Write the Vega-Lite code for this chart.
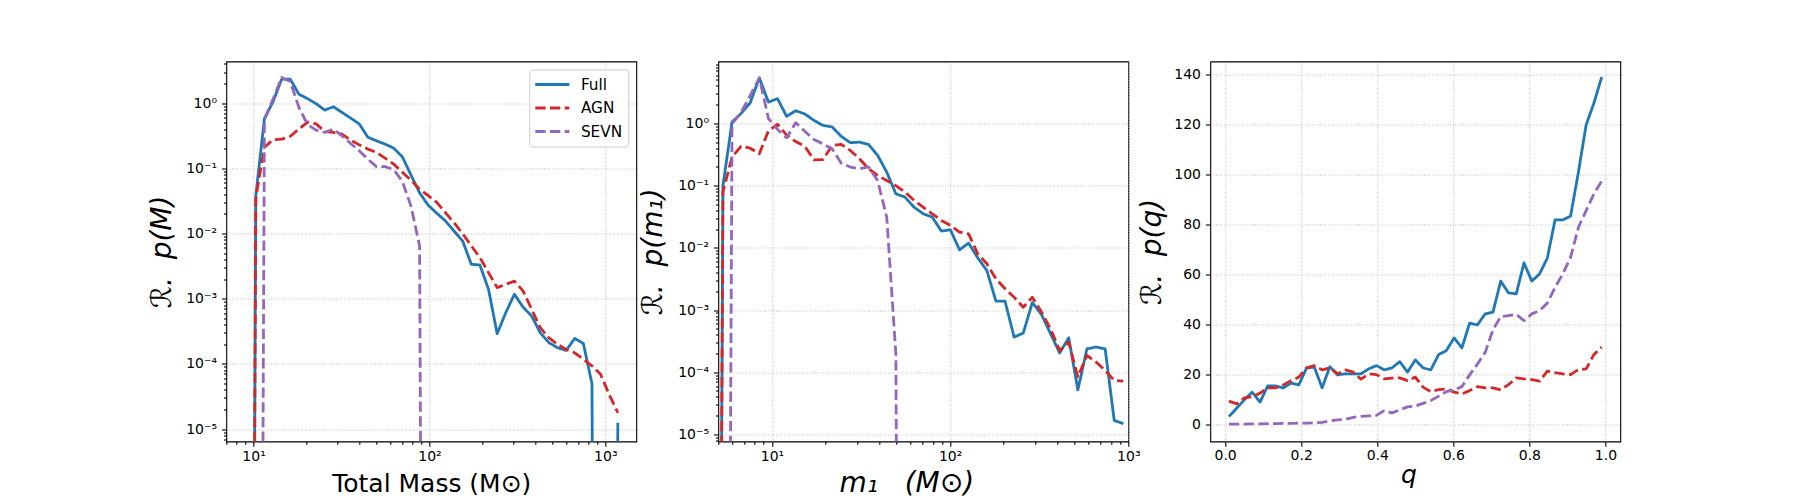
{
  "$schema": "https://vega.github.io/schema/vega-lite/v6.json",
  "background": "white",
  "padding": {"left": 147.3, "top": 55.5, "right": 5, "bottom": 5},
  "config": {
    "font": "DejaVu Sans",
    "view": {"stroke": "#000000", "strokeWidth": 1.1},
    "axis": {
      "domain": false,
      "grid": true,
      "gridColor": "#b0b0b0",
      "gridDash": [1, 1.6],
      "gridWidth": 0.8,
      "tickColor": "#000000",
      "tickWidth": 1.1,
      "labelFont": "DejaVu Sans",
      "labelFontSize": 14,
      "labelColor": "#000000",
      "labelOverlap": false,
      "labelBound": false,
      "labelFlush": false,
      "titleFont": "DejaVu Sans",
      "titleFontSize": 25,
      "titleFontWeight": "normal",
      "titleColor": "#000000"
    },
    "line": {"strokeWidth": 2.8, "strokeCap": "butt", "strokeJoin": "round"}
  },
  "datasets": {
    "p1": [
      {"x": 9.2, "y": 1e-30, "s": "Full"}, {"x": 10.3, "y": 0.038, "s": "Full"}, {"x": 11.53, "y": 0.58, "s": "Full"}, {"x": 12.91, "y": 1.05, "s": "Full"}, {"x": 14.45, "y": 2.33, "s": "Full"}, {"x": 16.18, "y": 2.33, "s": "Full"}, {"x": 18.11, "y": 1.37, "s": "Full"}, {"x": 20.28, "y": 1.17, "s": "Full"}, {"x": 22.7, "y": 0.98, "s": "Full"}, {"x": 25.41, "y": 0.78, "s": "Full"}, {"x": 28.44, "y": 0.88, "s": "Full"}, {"x": 31.84, "y": 0.72, "s": "Full"}, {"x": 35.65, "y": 0.59, "s": "Full"}, {"x": 39.9, "y": 0.48, "s": "Full"}, {"x": 44.67, "y": 0.3, "s": "Full"}, {"x": 50.0, "y": 0.264, "s": "Full"}, {"x": 55.98, "y": 0.235, "s": "Full"}, {"x": 62.66, "y": 0.204, "s": "Full"}, {"x": 70.15, "y": 0.15, "s": "Full"}, {"x": 78.52, "y": 0.079, "s": "Full"}, {"x": 87.9, "y": 0.042, "s": "Full"}, {"x": 98.4, "y": 0.0272, "s": "Full"}, {"x": 110.2, "y": 0.0204, "s": "Full"}, {"x": 123.3, "y": 0.0156, "s": "Full"}, {"x": 138.0, "y": 0.0109, "s": "Full"}, {"x": 154.5, "y": 0.00767, "s": "Full"}, {"x": 173.0, "y": 0.00337, "s": "Full"}, {"x": 193.6, "y": 0.00329, "s": "Full"}, {"x": 216.8, "y": 0.00139, "s": "Full"}, {"x": 242.7, "y": 0.00029, "s": "Full"}, {"x": 271.6, "y": 0.00061, "s": "Full"}, {"x": 304.1, "y": 0.00117, "s": "Full"}, {"x": 340.4, "y": 0.000745, "s": "Full"}, {"x": 381.1, "y": 0.000542, "s": "Full"}, {"x": 426.6, "y": 0.000301, "s": "Full"}, {"x": 477.5, "y": 0.000212, "s": "Full"}, {"x": 534.6, "y": 0.000177, "s": "Full"}, {"x": 598.4, "y": 0.000161, "s": "Full"}, {"x": 669.9, "y": 0.000246, "s": "Full"}, {"x": 749.9, "y": 0.000206, "s": "Full"}, {"x": 839.5, "y": 0.0000497, "s": "Full"}, {"x": 939.8, "y": 1e-30, "s": "Full"}, {"x": 1052, "y": 1e-30, "s": "Full"}, {"x": 1178, "y": 0.0000125, "s": "Full"},
      {"x": 9.2, "y": 1e-30, "s": "AGN"}, {"x": 10.3, "y": 0.035, "s": "AGN"}, {"x": 11.53, "y": 0.21, "s": "AGN"}, {"x": 12.91, "y": 0.275, "s": "AGN"}, {"x": 14.45, "y": 0.28, "s": "AGN"}, {"x": 16.18, "y": 0.31, "s": "AGN"}, {"x": 18.11, "y": 0.4, "s": "AGN"}, {"x": 20.28, "y": 0.51, "s": "AGN"}, {"x": 22.7, "y": 0.48, "s": "AGN"}, {"x": 25.41, "y": 0.367, "s": "AGN"}, {"x": 28.44, "y": 0.355, "s": "AGN"}, {"x": 31.84, "y": 0.335, "s": "AGN"}, {"x": 35.65, "y": 0.271, "s": "AGN"}, {"x": 39.9, "y": 0.229, "s": "AGN"}, {"x": 44.67, "y": 0.197, "s": "AGN"}, {"x": 50.0, "y": 0.175, "s": "AGN"}, {"x": 55.98, "y": 0.143, "s": "AGN"}, {"x": 62.66, "y": 0.116, "s": "AGN"}, {"x": 70.15, "y": 0.087, "s": "AGN"}, {"x": 78.52, "y": 0.066, "s": "AGN"}, {"x": 87.9, "y": 0.048, "s": "AGN"}, {"x": 98.4, "y": 0.038, "s": "AGN"}, {"x": 110.2, "y": 0.03, "s": "AGN"}, {"x": 123.3, "y": 0.0209, "s": "AGN"}, {"x": 138.0, "y": 0.01466, "s": "AGN"}, {"x": 154.5, "y": 0.00993, "s": "AGN"}, {"x": 173.0, "y": 0.00646, "s": "AGN"}, {"x": 193.6, "y": 0.00427, "s": "AGN"}, {"x": 216.8, "y": 0.00251, "s": "AGN"}, {"x": 242.7, "y": 0.00148, "s": "AGN"}, {"x": 271.6, "y": 0.00166, "s": "AGN"}, {"x": 304.1, "y": 0.00186, "s": "AGN"}, {"x": 340.4, "y": 0.00132, "s": "AGN"}, {"x": 381.1, "y": 0.00069, "s": "AGN"}, {"x": 426.6, "y": 0.000359, "s": "AGN"}, {"x": 477.5, "y": 0.000251, "s": "AGN"}, {"x": 534.6, "y": 0.0002, "s": "AGN"}, {"x": 598.4, "y": 0.000166, "s": "AGN"}, {"x": 669.9, "y": 0.000148, "s": "AGN"}, {"x": 749.9, "y": 0.0001175, "s": "AGN"}, {"x": 839.5, "y": 0.0000933, "s": "AGN"}, {"x": 939.8, "y": 0.0000692, "s": "AGN"}, {"x": 1052, "y": 0.0000339, "s": "AGN"}, {"x": 1178, "y": 0.0000178, "s": "AGN"},
      {"x": 10.3, "y": 1e-30, "s": "SEVN"}, {"x": 11.53, "y": 0.56, "s": "SEVN"}, {"x": 12.91, "y": 1.15, "s": "SEVN"}, {"x": 14.45, "y": 2.48, "s": "SEVN"}, {"x": 16.18, "y": 2.15, "s": "SEVN"}, {"x": 18.11, "y": 0.86, "s": "SEVN"}, {"x": 20.28, "y": 0.47, "s": "SEVN"}, {"x": 22.7, "y": 0.385, "s": "SEVN"}, {"x": 25.41, "y": 0.355, "s": "SEVN"}, {"x": 28.44, "y": 0.4, "s": "SEVN"}, {"x": 31.84, "y": 0.315, "s": "SEVN"}, {"x": 35.65, "y": 0.24, "s": "SEVN"}, {"x": 39.9, "y": 0.186, "s": "SEVN"}, {"x": 44.67, "y": 0.138, "s": "SEVN"}, {"x": 50.0, "y": 0.106, "s": "SEVN"}, {"x": 55.98, "y": 0.106, "s": "SEVN"}, {"x": 62.66, "y": 0.0955, "s": "SEVN"}, {"x": 70.15, "y": 0.063, "s": "SEVN"}, {"x": 78.52, "y": 0.0263, "s": "SEVN"}, {"x": 87.9, "y": 0.00646, "s": "SEVN"}, {"x": 98.4, "y": 1e-30, "s": "SEVN"}
    ],
    "p2": [
      {"x": 4.72, "y": 1e-30, "s": "Full"}, {"x": 5.309, "y": 0.1, "s": "Full"}, {"x": 5.972, "y": 1.05, "s": "Full"}, {"x": 6.716, "y": 1.45, "s": "Full"}, {"x": 7.555, "y": 2.15, "s": "Full"}, {"x": 8.498, "y": 5.4, "s": "Full"}, {"x": 9.558, "y": 2.2, "s": "Full"}, {"x": 10.75, "y": 2.5, "s": "Full"}, {"x": 12.09, "y": 1.3, "s": "Full"}, {"x": 13.6, "y": 1.6, "s": "Full"}, {"x": 15.3, "y": 1.42, "s": "Full"}, {"x": 17.21, "y": 1.12, "s": "Full"}, {"x": 19.36, "y": 0.93, "s": "Full"}, {"x": 21.77, "y": 0.88, "s": "Full"}, {"x": 24.49, "y": 0.62, "s": "Full"}, {"x": 27.54, "y": 0.49, "s": "Full"}, {"x": 30.98, "y": 0.5, "s": "Full"}, {"x": 34.85, "y": 0.46, "s": "Full"}, {"x": 39.2, "y": 0.306, "s": "Full"}, {"x": 44.09, "y": 0.165, "s": "Full"}, {"x": 49.59, "y": 0.074, "s": "Full"}, {"x": 55.78, "y": 0.0654, "s": "Full"}, {"x": 62.74, "y": 0.045, "s": "Full"}, {"x": 70.57, "y": 0.0353, "s": "Full"}, {"x": 79.37, "y": 0.0312, "s": "Full"}, {"x": 89.28, "y": 0.0186, "s": "Full"}, {"x": 100.4, "y": 0.0195, "s": "Full"}, {"x": 112.9, "y": 0.0093, "s": "Full"}, {"x": 127.0, "y": 0.0119, "s": "Full"}, {"x": 142.9, "y": 0.0069, "s": "Full"}, {"x": 160.7, "y": 0.00433, "s": "Full"}, {"x": 180.8, "y": 0.00139, "s": "Full"}, {"x": 203.3, "y": 0.00139, "s": "Full"}, {"x": 228.7, "y": 0.000367, "s": "Full"}, {"x": 257.3, "y": 0.000426, "s": "Full"}, {"x": 289.4, "y": 0.00132, "s": "Full"}, {"x": 325.5, "y": 0.00085, "s": "Full"}, {"x": 366.1, "y": 0.000417, "s": "Full"}, {"x": 411.8, "y": 0.000204, "s": "Full"}, {"x": 463.2, "y": 0.000358, "s": "Full"}, {"x": 521.0, "y": 0.000052, "s": "Full"}, {"x": 586.0, "y": 0.000238, "s": "Full"}, {"x": 659.1, "y": 0.000254, "s": "Full"}, {"x": 741.3, "y": 0.000238, "s": "Full"}, {"x": 833.8, "y": 0.0000168, "s": "Full"}, {"x": 937.8, "y": 0.0000149, "s": "Full"},
      {"x": 4.72, "y": 1e-30, "s": "AGN"}, {"x": 5.309, "y": 0.079, "s": "AGN"}, {"x": 5.972, "y": 0.29, "s": "AGN"}, {"x": 6.716, "y": 0.43, "s": "AGN"}, {"x": 7.555, "y": 0.4, "s": "AGN"}, {"x": 8.498, "y": 0.325, "s": "AGN"}, {"x": 9.558, "y": 0.76, "s": "AGN"}, {"x": 10.75, "y": 0.97, "s": "AGN"}, {"x": 12.09, "y": 0.65, "s": "AGN"}, {"x": 13.6, "y": 0.51, "s": "AGN"}, {"x": 15.3, "y": 0.43, "s": "AGN"}, {"x": 17.21, "y": 0.26, "s": "AGN"}, {"x": 19.36, "y": 0.262, "s": "AGN"}, {"x": 21.77, "y": 0.443, "s": "AGN"}, {"x": 24.49, "y": 0.46, "s": "AGN"}, {"x": 27.54, "y": 0.368, "s": "AGN"}, {"x": 30.98, "y": 0.27, "s": "AGN"}, {"x": 34.85, "y": 0.187, "s": "AGN"}, {"x": 39.2, "y": 0.146, "s": "AGN"}, {"x": 44.09, "y": 0.121, "s": "AGN"}, {"x": 49.59, "y": 0.1, "s": "AGN"}, {"x": 55.78, "y": 0.079, "s": "AGN"}, {"x": 62.74, "y": 0.058, "s": "AGN"}, {"x": 70.57, "y": 0.045, "s": "AGN"}, {"x": 79.37, "y": 0.0353, "s": "AGN"}, {"x": 89.28, "y": 0.0276, "s": "AGN"}, {"x": 100.4, "y": 0.0229, "s": "AGN"}, {"x": 112.9, "y": 0.0179, "s": "AGN"}, {"x": 127.0, "y": 0.0168, "s": "AGN"}, {"x": 142.9, "y": 0.008, "s": "AGN"}, {"x": 160.7, "y": 0.00554, "s": "AGN"}, {"x": 180.8, "y": 0.00318, "s": "AGN"}, {"x": 203.3, "y": 0.0022, "s": "AGN"}, {"x": 228.7, "y": 0.00161, "s": "AGN"}, {"x": 257.3, "y": 0.00111, "s": "AGN"}, {"x": 289.4, "y": 0.00161, "s": "AGN"}, {"x": 325.5, "y": 0.00093, "s": "AGN"}, {"x": 366.1, "y": 0.0005, "s": "AGN"}, {"x": 411.8, "y": 0.000224, "s": "AGN"}, {"x": 463.2, "y": 0.000305, "s": "AGN"}, {"x": 521.0, "y": 0.000084, "s": "AGN"}, {"x": 586.0, "y": 0.000186, "s": "AGN"}, {"x": 659.1, "y": 0.000146, "s": "AGN"}, {"x": 741.3, "y": 0.000107, "s": "AGN"}, {"x": 833.8, "y": 0.000074, "s": "AGN"}, {"x": 937.8, "y": 0.000072, "s": "AGN"},
      {"x": 5.309, "y": 1e-30, "s": "SEVN"}, {"x": 5.972, "y": 0.99, "s": "SEVN"}, {"x": 6.716, "y": 1.5, "s": "SEVN"}, {"x": 7.555, "y": 2.82, "s": "SEVN"}, {"x": 8.498, "y": 5.4, "s": "SEVN"}, {"x": 9.558, "y": 1.2, "s": "SEVN"}, {"x": 10.75, "y": 0.8, "s": "SEVN"}, {"x": 12.09, "y": 0.59, "s": "SEVN"}, {"x": 13.6, "y": 1.03, "s": "SEVN"}, {"x": 15.3, "y": 0.75, "s": "SEVN"}, {"x": 17.21, "y": 0.55, "s": "SEVN"}, {"x": 19.36, "y": 0.47, "s": "SEVN"}, {"x": 21.77, "y": 0.39, "s": "SEVN"}, {"x": 24.49, "y": 0.23, "s": "SEVN"}, {"x": 27.54, "y": 0.199, "s": "SEVN"}, {"x": 30.98, "y": 0.187, "s": "SEVN"}, {"x": 34.85, "y": 0.2, "s": "SEVN"}, {"x": 39.2, "y": 0.121, "s": "SEVN"}, {"x": 44.09, "y": 0.031, "s": "SEVN"}, {"x": 49.59, "y": 0.0002, "s": "SEVN"}, {"x": 55.78, "y": 1e-30, "s": "SEVN"}
    ],
    "p3": [
      {"x": 0.01, "y": 3.3, "s": "Full"}, {"x": 0.0304, "y": 6.7, "s": "Full"}, {"x": 0.0508, "y": 10.1, "s": "Full"}, {"x": 0.0713, "y": 13.1, "s": "Full"}, {"x": 0.0917, "y": 9.1, "s": "Full"}, {"x": 0.1121, "y": 15.6, "s": "Full"}, {"x": 0.1325, "y": 15.6, "s": "Full"}, {"x": 0.1529, "y": 14.8, "s": "Full"}, {"x": 0.1733, "y": 16.7, "s": "Full"}, {"x": 0.1938, "y": 16.0, "s": "Full"}, {"x": 0.2142, "y": 22.8, "s": "Full"}, {"x": 0.2346, "y": 23.1, "s": "Full"}, {"x": 0.255, "y": 14.8, "s": "Full"}, {"x": 0.2754, "y": 23.3, "s": "Full"}, {"x": 0.2958, "y": 20.0, "s": "Full"}, {"x": 0.3163, "y": 20.4, "s": "Full"}, {"x": 0.3367, "y": 20.4, "s": "Full"}, {"x": 0.3571, "y": 20.4, "s": "Full"}, {"x": 0.3775, "y": 22.4, "s": "Full"}, {"x": 0.3979, "y": 23.7, "s": "Full"}, {"x": 0.4183, "y": 22.0, "s": "Full"}, {"x": 0.4388, "y": 22.8, "s": "Full"}, {"x": 0.4592, "y": 25.3, "s": "Full"}, {"x": 0.4796, "y": 21.1, "s": "Full"}, {"x": 0.5, "y": 26.0, "s": "Full"}, {"x": 0.5204, "y": 22.8, "s": "Full"}, {"x": 0.5408, "y": 22.0, "s": "Full"}, {"x": 0.5613, "y": 28.1, "s": "Full"}, {"x": 0.5817, "y": 29.7, "s": "Full"}, {"x": 0.6021, "y": 34.8, "s": "Full"}, {"x": 0.6225, "y": 30.8, "s": "Full"}, {"x": 0.6429, "y": 40.7, "s": "Full"}, {"x": 0.6633, "y": 40.0, "s": "Full"}, {"x": 0.6838, "y": 44.4, "s": "Full"}, {"x": 0.7042, "y": 45.1, "s": "Full"}, {"x": 0.7246, "y": 57.5, "s": "Full"}, {"x": 0.745, "y": 52.8, "s": "Full"}, {"x": 0.7654, "y": 52.4, "s": "Full"}, {"x": 0.7858, "y": 64.8, "s": "Full"}, {"x": 0.8063, "y": 57.5, "s": "Full"}, {"x": 0.8267, "y": 60.4, "s": "Full"}, {"x": 0.8471, "y": 66.7, "s": "Full"}, {"x": 0.8675, "y": 82.0, "s": "Full"}, {"x": 0.8879, "y": 82.0, "s": "Full"}, {"x": 0.9083, "y": 83.5, "s": "Full"}, {"x": 0.9288, "y": 101.0, "s": "Full"}, {"x": 0.9492, "y": 120.0, "s": "Full"}, {"x": 0.9696, "y": 128.7, "s": "Full"}, {"x": 0.99, "y": 139.1, "s": "Full"},
      {"x": 0.01, "y": 9.5, "s": "AGN"}, {"x": 0.0304, "y": 8.4, "s": "AGN"}, {"x": 0.0508, "y": 10.8, "s": "AGN"}, {"x": 0.0713, "y": 11.3, "s": "AGN"}, {"x": 0.0917, "y": 12.7, "s": "AGN"}, {"x": 0.1121, "y": 14.8, "s": "AGN"}, {"x": 0.1325, "y": 14.8, "s": "AGN"}, {"x": 0.1529, "y": 16.0, "s": "AGN"}, {"x": 0.1733, "y": 17.7, "s": "AGN"}, {"x": 0.1938, "y": 19.1, "s": "AGN"}, {"x": 0.2142, "y": 22.8, "s": "AGN"}, {"x": 0.2346, "y": 23.7, "s": "AGN"}, {"x": 0.255, "y": 22.0, "s": "AGN"}, {"x": 0.2754, "y": 22.8, "s": "AGN"}, {"x": 0.2958, "y": 20.4, "s": "AGN"}, {"x": 0.3163, "y": 22.0, "s": "AGN"}, {"x": 0.3367, "y": 21.1, "s": "AGN"}, {"x": 0.3571, "y": 18.3, "s": "AGN"}, {"x": 0.3775, "y": 20.4, "s": "AGN"}, {"x": 0.3979, "y": 20.1, "s": "AGN"}, {"x": 0.4183, "y": 18.4, "s": "AGN"}, {"x": 0.4388, "y": 18.7, "s": "AGN"}, {"x": 0.4592, "y": 18.8, "s": "AGN"}, {"x": 0.4796, "y": 17.7, "s": "AGN"}, {"x": 0.5, "y": 19.1, "s": "AGN"}, {"x": 0.5204, "y": 15.1, "s": "AGN"}, {"x": 0.5408, "y": 13.3, "s": "AGN"}, {"x": 0.5613, "y": 14.1, "s": "AGN"}, {"x": 0.5817, "y": 14.4, "s": "AGN"}, {"x": 0.6021, "y": 13.1, "s": "AGN"}, {"x": 0.6225, "y": 12.4, "s": "AGN"}, {"x": 0.6429, "y": 13.7, "s": "AGN"}, {"x": 0.6633, "y": 15.3, "s": "AGN"}, {"x": 0.6838, "y": 14.8, "s": "AGN"}, {"x": 0.7042, "y": 14.8, "s": "AGN"}, {"x": 0.7246, "y": 14.0, "s": "AGN"}, {"x": 0.745, "y": 16.1, "s": "AGN"}, {"x": 0.7654, "y": 18.8, "s": "AGN"}, {"x": 0.7858, "y": 18.4, "s": "AGN"}, {"x": 0.8063, "y": 18.1, "s": "AGN"}, {"x": 0.8267, "y": 17.5, "s": "AGN"}, {"x": 0.8471, "y": 21.5, "s": "AGN"}, {"x": 0.8675, "y": 20.9, "s": "AGN"}, {"x": 0.8879, "y": 20.4, "s": "AGN"}, {"x": 0.9083, "y": 20.1, "s": "AGN"}, {"x": 0.9288, "y": 22.1, "s": "AGN"}, {"x": 0.9492, "y": 22.4, "s": "AGN"}, {"x": 0.9696, "y": 28.1, "s": "AGN"}, {"x": 0.99, "y": 31.1, "s": "AGN"},
      {"x": 0.01, "y": 0.3, "s": "SEVN"}, {"x": 0.0304, "y": 0.3, "s": "SEVN"}, {"x": 0.0508, "y": 0.3, "s": "SEVN"}, {"x": 0.0713, "y": 0.4, "s": "SEVN"}, {"x": 0.0917, "y": 0.4, "s": "SEVN"}, {"x": 0.1121, "y": 0.5, "s": "SEVN"}, {"x": 0.1325, "y": 0.5, "s": "SEVN"}, {"x": 0.1529, "y": 0.6, "s": "SEVN"}, {"x": 0.1733, "y": 0.6, "s": "SEVN"}, {"x": 0.1938, "y": 0.7, "s": "SEVN"}, {"x": 0.2142, "y": 0.7, "s": "SEVN"}, {"x": 0.2346, "y": 0.8, "s": "SEVN"}, {"x": 0.255, "y": 1.0, "s": "SEVN"}, {"x": 0.2754, "y": 1.6, "s": "SEVN"}, {"x": 0.2958, "y": 2.0, "s": "SEVN"}, {"x": 0.3163, "y": 2.2, "s": "SEVN"}, {"x": 0.3367, "y": 3.0, "s": "SEVN"}, {"x": 0.3571, "y": 3.4, "s": "SEVN"}, {"x": 0.3775, "y": 3.6, "s": "SEVN"}, {"x": 0.3979, "y": 3.8, "s": "SEVN"}, {"x": 0.4183, "y": 5.7, "s": "SEVN"}, {"x": 0.4388, "y": 4.8, "s": "SEVN"}, {"x": 0.4592, "y": 6.0, "s": "SEVN"}, {"x": 0.4796, "y": 7.2, "s": "SEVN"}, {"x": 0.5, "y": 7.5, "s": "SEVN"}, {"x": 0.5204, "y": 8.6, "s": "SEVN"}, {"x": 0.5408, "y": 9.7, "s": "SEVN"}, {"x": 0.5613, "y": 11.5, "s": "SEVN"}, {"x": 0.5817, "y": 13.3, "s": "SEVN"}, {"x": 0.6021, "y": 14.0, "s": "SEVN"}, {"x": 0.6225, "y": 15.3, "s": "SEVN"}, {"x": 0.6429, "y": 20.0, "s": "SEVN"}, {"x": 0.6633, "y": 24.3, "s": "SEVN"}, {"x": 0.6838, "y": 29.0, "s": "SEVN"}, {"x": 0.7042, "y": 38.0, "s": "SEVN"}, {"x": 0.7246, "y": 43.3, "s": "SEVN"}, {"x": 0.745, "y": 43.7, "s": "SEVN"}, {"x": 0.7654, "y": 44.2, "s": "SEVN"}, {"x": 0.7858, "y": 41.7, "s": "SEVN"}, {"x": 0.8063, "y": 44.4, "s": "SEVN"}, {"x": 0.8267, "y": 45.7, "s": "SEVN"}, {"x": 0.8471, "y": 48.7, "s": "SEVN"}, {"x": 0.8675, "y": 55.0, "s": "SEVN"}, {"x": 0.8879, "y": 60.4, "s": "SEVN"}, {"x": 0.9083, "y": 67.0, "s": "SEVN"}, {"x": 0.9288, "y": 79.0, "s": "SEVN"}, {"x": 0.9492, "y": 85.7, "s": "SEVN"}, {"x": 0.9696, "y": 92.4, "s": "SEVN"}, {"x": 0.99, "y": 97.5, "s": "SEVN"}
    ]
  },
  "bounds": "flush",
  "spacing": 82,
  "resolve": {
    "scale": {"color": "independent", "strokeDash": "independent"},
    "legend": {"color": "independent", "strokeDash": "independent"}
  },
  "hconcat": [
    {
      "width": 410,
      "height": 380,
      "data": {"name": "p1"},
      "encoding": {
        "x": {
          "field": "x", "type": "quantitative",
          "scale": {"type": "log", "domain": [7, 1500], "nice": false},
          "axis": {
            "title": "Total Mass (M⊙)",
            "values": [7, 8, 9, 10, 20, 30, 40, 50, 60, 70, 80, 90, 100, 200, 300, 400, 500, 600, 700, 800, 900, 1000],
            "labelExpr": "abs(log(datum.value)/LN10 - round(log(datum.value)/LN10)) < 0.001 ? ['10⁻⁵','10⁻⁴','10⁻³','10⁻²','10⁻¹','10⁰','10¹','10²','10³'][round(log(datum.value)/LN10)+5] : ''",
            "tickSize": {"condition": {"test": "abs(log(datum.value)/LN10 - round(log(datum.value)/LN10)) < 0.001", "value": 4.8}, "value": 2.8},
            "gridOpacity": {"condition": {"test": "abs(log(datum.value)/LN10 - round(log(datum.value)/LN10)) < 0.001", "value": 1}, "value": 0},
            "labelPadding": 3,
            "titleY": 50.5,
            "titleBaseline": "alphabetic"
          }
        },
        "y": {
          "field": "y", "type": "quantitative",
          "scale": {"type": "log", "domain": [0.00000645, 4.35], "nice": false},
          "axis": {
            "title": "ℛ.\u00a0 p(M)",
            "titleFontStyle": "italic",
            "titleFontSize": 28,
            "values": [0.000007, 0.000008, 0.000009, 0.00001, 0.00002, 0.00003, 0.00004, 0.00005, 0.00006, 0.00007, 0.00008, 0.00009, 0.0001, 0.0002, 0.0003, 0.0004, 0.0005, 0.0006, 0.0007, 0.0008, 0.0009, 0.001, 0.002, 0.003, 0.004, 0.005, 0.006, 0.007, 0.008, 0.009, 0.01, 0.02, 0.03, 0.04, 0.05, 0.06, 0.07, 0.08, 0.09, 0.1, 0.2, 0.3, 0.4, 0.5, 0.6, 0.7, 0.8, 0.9, 1, 2, 3, 4],
            "labelExpr": "abs(log(datum.value)/LN10 - round(log(datum.value)/LN10)) < 0.001 ? ['10⁻⁵','10⁻⁴','10⁻³','10⁻²','10⁻¹','10⁰','10¹','10²','10³'][round(log(datum.value)/LN10)+5] : ''",
            "tickSize": {"condition": {"test": "abs(log(datum.value)/LN10 - round(log(datum.value)/LN10)) < 0.001", "value": 4.8}, "value": 2.8},
            "gridOpacity": {"condition": {"test": "abs(log(datum.value)/LN10 - round(log(datum.value)/LN10)) < 0.001", "value": 1}, "value": 0},
            "labelPadding": 5,
            "titleX": -56,
            "titleBaseline": "alphabetic"
          }
        },
        "color": {
          "field": "s", "type": "nominal",
          "scale": {"domain": ["Full", "AGN", "SEVN"], "range": ["#1f77b4", "#d62728", "#9467bd"]},
          "legend": {"title": null, "orient": "top-right", "offset": 8, "symbolType": "M-1.2,0L3.333,0", "symbolSize": 225, "symbolStrokeWidth": 2.8, "labelFontSize": 15.3, "labelFont": "DejaVu Sans", "labelColor": "#000000", "labelOffset": 27.6, "padding": 6, "rowPadding": 5.5, "strokeColor": "#cccccc", "fillColor": "rgba(255,255,255,0.8)", "cornerRadius": 3}
        },
        "strokeDash": {
          "field": "s", "type": "nominal",
          "scale": {"domain": ["Full", "AGN", "SEVN"], "range": [[1, 0], [10.3, 4.4], [10.3, 4.4]]},
          "legend": {"title": null, "orient": "top-right", "offset": 8, "symbolType": "M-1.2,0L3.333,0", "symbolSize": 225, "symbolStrokeWidth": 2.8, "labelFontSize": 15.3, "labelFont": "DejaVu Sans", "labelColor": "#000000", "labelOffset": 27.6, "padding": 6, "rowPadding": 5.5, "strokeColor": "#cccccc", "fillColor": "rgba(255,255,255,0.8)", "cornerRadius": 3}
        }
      },
      "layer": [
        {"transform": [{"filter": "datum.s == 'Full'"}], "mark": {"type": "line", "clip": true}},
        {"transform": [{"filter": "datum.s == 'AGN'"}], "mark": {"type": "line", "clip": true}},
        {"transform": [{"filter": "datum.s == 'SEVN'"}], "mark": {"type": "line", "clip": true}}
      ]
    },
    {
      "width": 410,
      "height": 380,
      "data": {"name": "p2"},
      "encoding": {
        "x": {
          "field": "x", "type": "quantitative",
          "scale": {"type": "log", "domain": [5, 1000], "nice": false},
          "axis": {
            "title": "m₁\u00a0\u00a0 (M⊙)",
            "titleFontStyle": "italic",
            "titleFontSize": 28,
            "values": [5, 6, 7, 8, 9, 10, 20, 30, 40, 50, 60, 70, 80, 90, 100, 200, 300, 400, 500, 600, 700, 800, 900, 1000],
            "labelExpr": "abs(log(datum.value)/LN10 - round(log(datum.value)/LN10)) < 0.001 ? ['10⁻⁵','10⁻⁴','10⁻³','10⁻²','10⁻¹','10⁰','10¹','10²','10³'][round(log(datum.value)/LN10)+5] : ''",
            "tickSize": {"condition": {"test": "abs(log(datum.value)/LN10 - round(log(datum.value)/LN10)) < 0.001", "value": 4.8}, "value": 2.8},
            "gridOpacity": {"condition": {"test": "abs(log(datum.value)/LN10 - round(log(datum.value)/LN10)) < 0.001", "value": 1}, "value": 0},
            "labelPadding": 3,
            "titleX": 188,
            "titleY": 50.5,
            "titleBaseline": "alphabetic"
          }
        },
        "y": {
          "field": "y", "type": "quantitative",
          "scale": {"type": "log", "domain": [0.0000077, 9.9], "nice": false},
          "axis": {
            "title": "ℛ.\u00a0 p(m₁)",
            "titleFontStyle": "italic",
            "titleFontSize": 28,
            "values": [0.000008, 0.000009, 0.00001, 0.00002, 0.00003, 0.00004, 0.00005, 0.00006, 0.00007, 0.00008, 0.00009, 0.0001, 0.0002, 0.0003, 0.0004, 0.0005, 0.0006, 0.0007, 0.0008, 0.0009, 0.001, 0.002, 0.003, 0.004, 0.005, 0.006, 0.007, 0.008, 0.009, 0.01, 0.02, 0.03, 0.04, 0.05, 0.06, 0.07, 0.08, 0.09, 0.1, 0.2, 0.3, 0.4, 0.5, 0.6, 0.7, 0.8, 0.9, 1, 2, 3, 4, 5, 6, 7, 8, 9],
            "labelExpr": "abs(log(datum.value)/LN10 - round(log(datum.value)/LN10)) < 0.001 ? ['10⁻⁵','10⁻⁴','10⁻³','10⁻²','10⁻¹','10⁰','10¹','10²','10³'][round(log(datum.value)/LN10)+5] : ''",
            "tickSize": {"condition": {"test": "abs(log(datum.value)/LN10 - round(log(datum.value)/LN10)) < 0.001", "value": 4.8}, "value": 2.8},
            "gridOpacity": {"condition": {"test": "abs(log(datum.value)/LN10 - round(log(datum.value)/LN10)) < 0.001", "value": 1}, "value": 0},
            "labelPadding": 5,
            "titleX": -57,
            "titleBaseline": "alphabetic"
          }
        },
        "color": {
          "field": "s", "type": "nominal",
          "scale": {"domain": ["Full", "AGN", "SEVN"], "range": ["#1f77b4", "#d62728", "#9467bd"]},
          "legend": null
        },
        "strokeDash": {
          "field": "s", "type": "nominal",
          "scale": {"domain": ["Full", "AGN", "SEVN"], "range": [[1, 0], [10.3, 4.4], [10.3, 4.4]]},
          "legend": null
        }
      },
      "layer": [
        {"transform": [{"filter": "datum.s == 'Full'"}], "mark": {"type": "line", "clip": true}},
        {"transform": [{"filter": "datum.s == 'AGN'"}], "mark": {"type": "line", "clip": true}},
        {"transform": [{"filter": "datum.s == 'SEVN'"}], "mark": {"type": "line", "clip": true}}
      ]
    },
    {
      "width": 410,
      "height": 380,
      "data": {"name": "p3"},
      "encoding": {
        "x": {
          "field": "x", "type": "quantitative",
          "scale": {"domain": [-0.039, 1.039], "nice": false, "zero": false},
          "axis": {
            "title": "q",
            "titleFontStyle": "italic",
            "values": [0, 0.2, 0.4, 0.6, 0.8, 1.0],
            "format": ".1f",
            "tickSize": 4.8,
            "labelPadding": 2,
            "titleX": 198,
            "titleY": 41,
            "titleBaseline": "alphabetic"
          }
        },
        "y": {
          "field": "y", "type": "quantitative",
          "scale": {"domain": [-6.65, 145.35], "nice": false, "zero": false},
          "axis": {
            "title": "ℛ.\u00a0 p(q)",
            "titleFontStyle": "italic",
            "titleFontSize": 28,
            "values": [0, 20, 40, 60, 80, 100, 120, 140],
            "tickSize": 4.8,
            "labelPadding": 5,
            "titleX": -50,
            "titleBaseline": "alphabetic"
          }
        },
        "color": {
          "field": "s", "type": "nominal",
          "scale": {"domain": ["Full", "AGN", "SEVN"], "range": ["#1f77b4", "#d62728", "#9467bd"]},
          "legend": null
        },
        "strokeDash": {
          "field": "s", "type": "nominal",
          "scale": {"domain": ["Full", "AGN", "SEVN"], "range": [[1, 0], [10.3, 4.4], [10.3, 4.4]]},
          "legend": null
        }
      },
      "layer": [
        {"transform": [{"filter": "datum.s == 'Full'"}], "mark": {"type": "line", "clip": true}},
        {"transform": [{"filter": "datum.s == 'AGN'"}], "mark": {"type": "line", "clip": true}},
        {"transform": [{"filter": "datum.s == 'SEVN'"}], "mark": {"type": "line", "clip": true}}
      ]
    }
  ]
}
